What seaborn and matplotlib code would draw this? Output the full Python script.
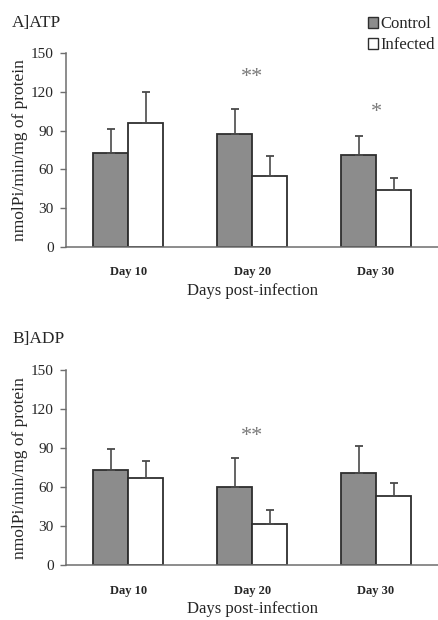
import numpy as np
import pandas as pd
import matplotlib
matplotlib.use("Agg")
import matplotlib.pyplot as plt
import seaborn as sns
from matplotlib.patches import Patch

# ---------------- data ----------------
days = ["Day 10", "Day 20", "Day 30"]
groups = ["Control", "Infected"]

atp_control = [73, 87, 71]
atp_infected = [96, 55, 44]
atp_control_err = [18, 20, 15]
atp_infected_err = [23.5, 15.5, 9]

adp_control = [73, 60, 71]
adp_infected = [67, 32, 53.5]
adp_control_err = [16.5, 22.5, 20.5]
adp_infected_err = [13, 10.5, 9.5]

y_ticks = [0, 30, 60, 90, 120, 150]
atp_stars = [("Day 20", "**", 131), ("Day 30", "*", 104)]
adp_stars = [("Day 20", "**", 99)]

panel_titles = ["A]ATP", "B]ADP"]
x_label = "Days post-infection"
y_label = "nmolPi/min/mg of protein"

# ---------------- style ----------------
sns.set_style("white")
plt.rcParams["font.family"] = ["Liberation Serif", "DejaVu Serif"]

ctrl_color = "#8c8c8c"
edge_color = "#2e2e2e"
spine_color = "#6e6e6e"

fig = plt.figure(figsize=(4.38, 6.2), dpi=100)
ax_top = fig.add_axes([0.151, 0.6016, 0.849, 0.313])
ax_bot = fig.add_axes([0.151, 0.088, 0.849, 0.315])


def panel(ax, ctrl, inf, cerr, ierr, stars, title, title_y, xlabelpad):
    df = pd.DataFrame({
        "day": days * 2,
        "group": [groups[0]] * len(days) + [groups[1]] * len(days),
        "value": list(ctrl) + list(inf),
    })
    sns.barplot(data=df, x="day", y="value", hue="group", order=days,
                hue_order=groups, palette={groups[0]: ctrl_color, groups[1]: "white"},
                width=0.565, edgecolor=edge_color, linewidth=1.3, errorbar=None,
                legend=False, saturation=1, ax=ax)
    for cont, errs in zip(ax.containers, [cerr, ierr]):
        for bar, e in zip(cont, errs):
            x = bar.get_x() + bar.get_width() / 2
            h = bar.get_height()
            ax.errorbar([x], [h], yerr=[[0], [e]], fmt="none", ecolor="#4a4a4a",
                        elinewidth=1.2, capsize=3, capthick=1.3, zorder=1)
    for day, s, yv in stars:
        ax.text(days.index(day), yv, s, ha="center", va="center",
                fontsize=16, color="#7a7a7a")
    ax.set_xlim(-0.5, 2.5)
    ax.set_ylim(0, 150)
    ax.set_yticks(y_ticks)
    ax.set_yticklabels([str(t) for t in y_ticks], fontsize=11)
    ax.set_xticks(range(len(days)))
    ax.set_xticklabels(days, fontsize=9, fontweight="bold")
    ax.set_xticks([-0.5, 0.5, 1.5, 2.5], minor=True)
    ax.tick_params(axis="x", which="major", length=0, pad=14)
    ax.tick_params(axis="x", which="minor", length=4, width=1, color=spine_color, direction="out")
    ax.tick_params(axis="y", which="major", length=4, width=1, color=spine_color,
                   direction="out", pad=5, left=True)
    ax.set_xlabel(x_label, fontsize=12, labelpad=xlabelpad)
    ax.set_ylabel(y_label, fontsize=12.5, labelpad=2)
    for sp in ["top", "right"]:
        ax.spines[sp].set_visible(False)
    for sp in ["left", "bottom"]:
        ax.spines[sp].set_color(spine_color)
        ax.spines[sp].set_linewidth(1.1)
    ax.text(-0.145, title_y, title, transform=ax.transAxes, fontsize=12.5,
            ha="left", va="center")


panel(ax_top, atp_control, atp_infected, atp_control_err, atp_infected_err,
      atp_stars, panel_titles[0], 1.155, 3)
panel(ax_bot, adp_control, adp_infected, adp_control_err, adp_infected_err,
      adp_stars, panel_titles[1], 1.16, 3)

handles = [Patch(facecolor=ctrl_color, edgecolor=edge_color, linewidth=1),
           Patch(facecolor="white", edgecolor=edge_color, linewidth=1)]
fig.legend(handles, groups, loc="upper right", bbox_to_anchor=(1.015, 0.99),
           frameon=False, fontsize=12, handlelength=0.6, handleheight=0.6,
           handletextpad=0.15, labelspacing=0.3, borderaxespad=0.2)

fig.savefig("out.png", dpi=100, facecolor="white")
